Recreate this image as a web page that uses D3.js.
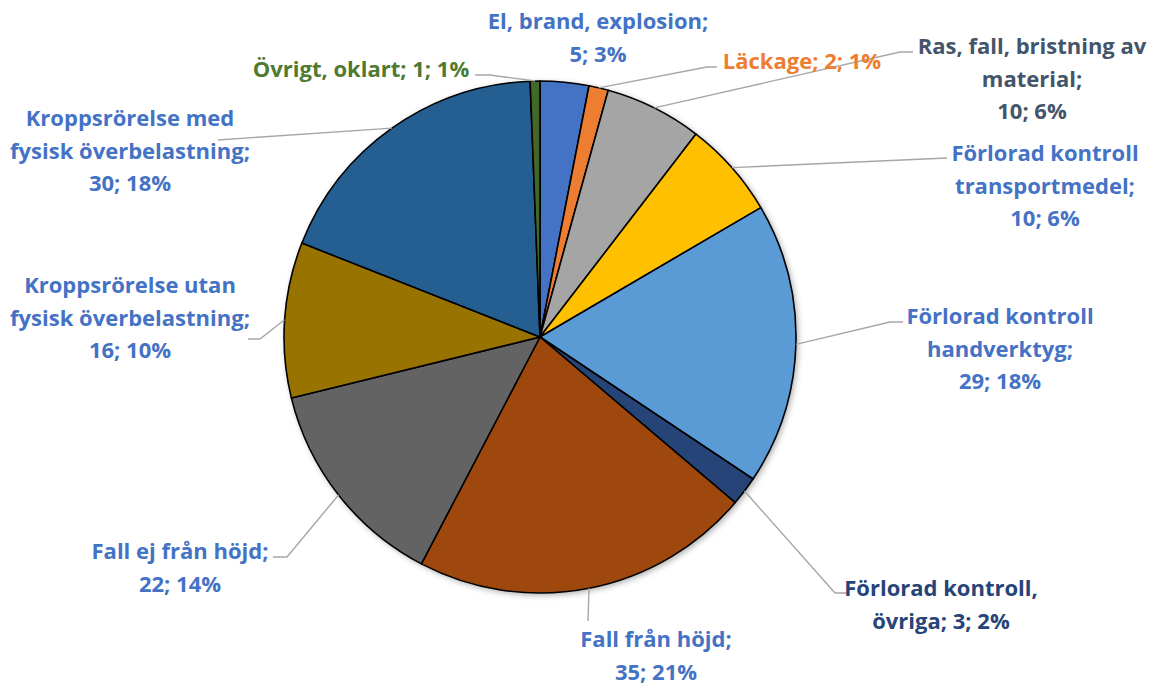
<!DOCTYPE html>
<html>
<head>
<meta charset="utf-8">
<script src="https://cdn.jsdelivr.net/npm/d3@7/dist/d3.min.js"></script>
<style>
  html, body { margin: 0; padding: 0; background: #fff; }
  svg { display: block; }
  text { font-family: "Open Sans", Lato, sans-serif; font-weight: 700; }
</style>
</head>
<body>
<svg id="chart" width="1157" height="686"></svg>
<script>
// ---- data ----
const categories = [
  "El, brand, explosion",
  "Läckage",
  "Ras, fall, bristning av material",
  "Förlorad kontroll transportmedel",
  "Förlorad kontroll handverktyg",
  "Förlorad kontroll, övriga",
  "Fall från höjd",
  "Fall ej från höjd",
  "Kroppsrörelse utan fysisk överbelastning",
  "Kroppsrörelse med fysisk överbelastning",
  "Övrigt, oklart"
];
const values = [5, 2, 10, 10, 29, 3, 35, 22, 16, 30, 1];
const percents = ["3%", "1%", "6%", "6%", "18%", "2%", "21%", "14%", "10%", "18%", "1%"];
// label text lines (as wrapped in the reference)
const labelLines = [
  ["El, brand, explosion;", "5; 3%"],
  ["Läckage; 2; 1%"],
  ["Ras, fall, bristning av", "material;", "10; 6%"],
  ["Förlorad kontroll", "transportmedel;", "10; 6%"],
  ["Förlorad kontroll", "handverktyg;", "29; 18%"],
  ["Förlorad kontroll,", "övriga; 3; 2%"],
  ["Fall från höjd;", "35; 21%"],
  ["Fall ej från höjd;", "22; 14%"],
  ["Kroppsrörelse utan", "fysisk överbelastning;", "16; 10%"],
  ["Kroppsrörelse med", "fysisk överbelastning;", "30; 18%"],
  ["Övrigt, oklart; 1; 1%"]
];

// ---- styles ----
const sliceColors = ["#4472C4", "#ED7D31", "#A5A5A5", "#FFC000", "#5B9BD5", "#264478",
                     "#9E480E", "#636363", "#997300", "#255E91", "#43682B"];
const labelColors = ["#4472C4", "#ED7D31", "#44546A", "#4472C4", "#4472C4", "#264478",
                     "#4472C4", "#4472C4", "#4472C4", "#4472C4", "#4F7A32"];

// ---- layout (label placement, leader end points) ----
const labelLayout = [
  { cx: 598, y0: 20, end: null, elbow: 0 },
  { cx: 802, y0: 60, end: [717, 67], elbow: -10 },
  { cx: 1032, y0: 45, end: [913, 52], elbow: -13 },
  { cx: 1045, y0: 152, end: [947, 158], elbow: 0 },
  { cx: 1000, y0: 315, end: [903, 322], elbow: -13 },
  { cx: 941, y0: 587, end: [847, 593], elbow: -12 },
  { cx: 656, y0: 638, end: [588, 621], elbow: 0 },
  { cx: 180, y0: 550, end: [273, 557], elbow: 14 },
  { cx: 130, y0: 284, end: [248, 339], elbow: 12 },
  { cx: 130, y0: 117, end: [218, 140], elbow: 0 },
  { cx: 361, y0: 68, end: [475, 75], elbow: 15 }
];
const center = [540, 337];
const radius = 256;
const lineStep = 32.5;
const fontSize = 22;

const svg = d3.select("#chart");
const defs = svg.append("defs");
const f = defs.append("filter").attr("id", "shadow")
  .attr("x", "-10%").attr("y", "-10%").attr("width", "120%").attr("height", "120%");
f.append("feDropShadow").attr("dx", 2).attr("dy", 2).attr("stdDeviation", 3)
  .attr("flood-color", "#000").attr("flood-opacity", 0.35);

const data = categories.map((c, i) => ({ cat: c, value: values[i], i }));
const pie = d3.pie().value(d => d.value).sort(null);
const arcs = pie(data);
const arc = d3.arc().innerRadius(0).outerRadius(radius);

const g = svg.append("g").attr("transform", `translate(${center[0]},${center[1]})`);

// shadow base
g.append("circle").attr("r", radius).attr("fill", "#fff").attr("filter", "url(#shadow)");

g.selectAll("path.slice").data(arcs).join("path")
  .attr("class", "slice")
  .attr("d", arc)
  .attr("fill", d => sliceColors[d.data.i])
  .attr("stroke", "#000")
  .attr("stroke-width", 1.6)
  .attr("stroke-linejoin", "round");

// leader lines
const leaders = svg.append("g");
arcs.forEach(a => {
  const L = labelLayout[a.data.i];
  if (!L.end) return;
  const mid = (a.startAngle + a.endAngle) / 2;
  const p = [center[0] + radius * Math.sin(mid), center[1] - radius * Math.cos(mid)];
  const pts = [p];
  if (L.elbow) pts.push([L.end[0] + L.elbow, L.end[1]]);
  pts.push(L.end);
  leaders.append("path")
    .attr("d", d3.line()(pts))
    .attr("fill", "none")
    .attr("stroke", "#A6A6A6")
    .attr("stroke-width", 1.4);
});

// labels
const labels = svg.append("g");
labelLines.forEach((lines, i) => {
  const L = labelLayout[i];
  const t = labels.append("text")
    .attr("text-anchor", "middle")
    .attr("fill", labelColors[i])
    .attr("font-size", fontSize);
  lines.forEach((ln, k) => {
    t.append("tspan")
      .attr("x", L.cx)
      .attr("y", L.y0 + k * lineStep)
      .attr("dominant-baseline", "central")
      .text(ln);
  });
});
</script>
</body>
</html>
